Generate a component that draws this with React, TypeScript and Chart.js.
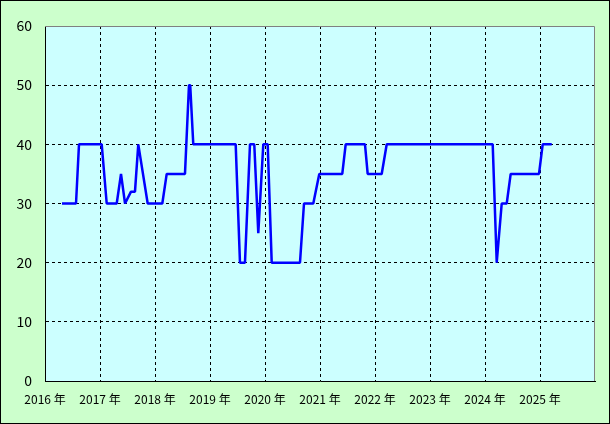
import React, { useEffect, useRef } from "react";
import { Chart, registerables } from "chart.js";

Chart.register(...registerables);

// Decimal-year positions of the price change points
const dates: number[] = [
  2016.309, 2016.564, 2016.618, 2017.031, 2017.122, 2017.304, 2017.382, 2017.455,
  2017.564, 2017.636, 2017.696, 2017.867, 2018.133, 2018.213, 2018.545, 2018.618,
  2018.64, 2018.696, 2019.467, 2019.545, 2019.636, 2019.727, 2019.805,
  2019.878, 2019.969, 2020.049, 2020.122, 2020.636, 2020.709, 2020.878, 2020.987,
  2021.405, 2021.467, 2021.818, 2021.867, 2022.122, 2022.213, 2024.14, 2024.213,
  2024.304, 2024.395, 2024.467, 2024.982, 2025.049, 2025.213,
];
const values: number[] = [
  30, 30, 40, 40, 30, 30, 35, 30,
  32, 32, 40, 30, 30, 35, 35, 50,
  50, 40, 40, 20, 20, 40, 40,
  25, 40, 40, 20, 20, 30, 30, 35,
  35, 40, 40, 35, 35, 40, 40, 20,
  30, 30, 35, 35, 40, 40,
];
const yearTicks: number[] = [2016, 2017, 2018, 2019, 2020, 2021, 2022, 2023, 2024, 2025];
const yearSuffix = " 年";

const FONT = "'Noto Sans CJK JP', 'Noto Sans', sans-serif";

const bgPlugin = {
  id: "bgPlugin",
  beforeDraw(chart: any) {
    const { ctx, chartArea, width, height } = chart;
    ctx.save();
    ctx.fillStyle = "rgb(204,255,204)";
    ctx.fillRect(0, 0, width, height);
    ctx.fillStyle = "rgb(204,255,255)";
    ctx.fillRect(chartArea.left, chartArea.top, chartArea.right - chartArea.left, chartArea.bottom - chartArea.top);
    ctx.strokeStyle = "#000";
    ctx.lineWidth = 1;
    ctx.strokeRect(0.5, 0.5, width - 1, height - 1);
    ctx.restore();
  },
  beforeDatasetsDraw(chart: any) {
    const { ctx, chartArea } = chart;
    ctx.save();
    ctx.strokeStyle = "#808080";
    ctx.lineWidth = 1;
    ctx.beginPath();
    ctx.moveTo(chartArea.left, chartArea.top + 0.5);
    ctx.lineTo(chartArea.right - 0.5, chartArea.top + 0.5);
    ctx.lineTo(chartArea.right - 0.5, chartArea.bottom);
    ctx.stroke();
    ctx.restore();
  },
};

export default function App() {
  const ref = useRef<HTMLCanvasElement>(null);
  useEffect(() => {
    document.body.style.margin = "0";
    const chart = new Chart(ref.current!, {
      type: "line",
      data: {
        datasets: [
          {
            data: dates.map((d, i) => ({ x: d, y: values[i] })),
            borderColor: "#0000ff",
            borderWidth: 2.5,
            borderJoinStyle: "bevel",
            borderCapStyle: "butt",
            pointRadius: 0,
            tension: 0,
            fill: false,
          },
        ],
      },
      options: {
        animation: false,
        responsive: false,
        devicePixelRatio: 1,
        layout: { padding: { top: 26, right: 15, left: 0, bottom: 0 } },
        plugins: { legend: { display: false }, tooltip: { enabled: false } },
        scales: {
          x: {
            type: "linear",
            min: 2016,
            max: 2026,
            afterBuildTicks: (scale: any) => {
              scale.ticks = [...yearTicks, 2026].map((v) => ({ value: v }));
            },
            afterFit: (scale: any) => {
              scale.height = 43;
            },
            ticks: {
              callback: (v: any) => (yearTicks.includes(v) ? `${v}${yearSuffix}` : ""),
              color: "#000",
              font: { family: FONT, size: 12 },
              padding: 11,
              maxRotation: 0,
              autoSkip: false,
            },
            grid: {
              color: (c: any) =>
                c.tick && (c.tick.value === 2016 || c.tick.value === 2026) ? "rgba(0,0,0,0)" : "#000",
              lineWidth: 1,
              drawTicks: false,
            },
            border: { display: true, color: "#000", width: 1, dash: [3, 3] },
          },
          y: {
            min: 0,
            max: 60,
            ticks: {
              stepSize: 10,
              color: "#000",
              font: { family: FONT, size: 14 },
              padding: 13,
            },
            afterFit: (scale: any) => {
              scale.width = 45;
            },
            grid: {
              color: (c: any) =>
                c.tick && (c.tick.value === 0 || c.tick.value === 60) ? "rgba(0,0,0,0)" : "#000",
              lineWidth: 1,
              drawTicks: false,
            },
            border: { display: true, color: "#000", width: 1, dash: [3, 3] },
          },
        },
      },
      plugins: [bgPlugin],
    } as any);
    return () => chart.destroy();
  }, []);
  return (
    <div style={{ position: "absolute", left: 0, top: 0, width: 610, height: 424 }}>
      <canvas ref={ref} width={610} height={424} />
    </div>
  );
}
